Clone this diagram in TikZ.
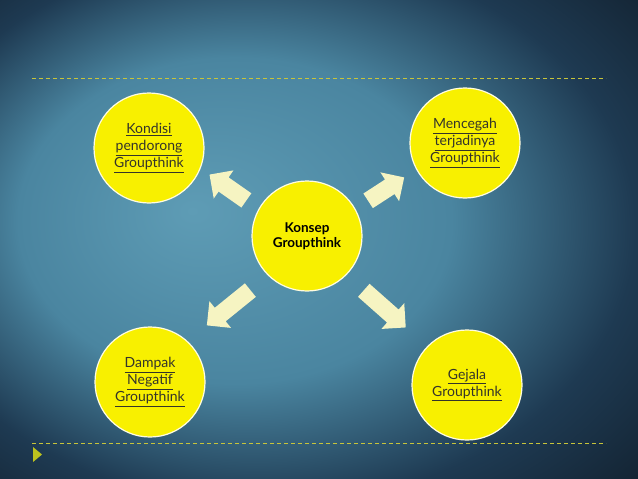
\documentclass[tikz,border=0pt]{standalone}
\usepackage{fontspec}
\setmainfont{Lato}
\usetikzlibrary{shapes.arrows}
\definecolor{bgA}{HTML}{5E9CB5}
\definecolor{bgB}{HTML}{4A85A0}
\definecolor{bgC}{HTML}{1E3A52}
\definecolor{bgD}{HTML}{101C28}
\definecolor{bgE}{HTML}{0B141C}
\definecolor{dashcol}{HTML}{C8C43A}
\definecolor{tricol}{HTML}{BCC21E}
\definecolor{circfill}{HTML}{F8F000}
\definecolor{circedge}{HTML}{FFFCE0}
\definecolor{txtcol}{HTML}{34342A}
\definecolor{arrfill}{HTML}{F6F4C2}
\pgfdeclareradialshading{bgshade}{\pgfpoint{-10bp}{3bp}}{color(0bp)=(bgA); color(17bp)=(bgB); color(29bp)=(bgC); color(41bp)=(bgD); color(50bp)=(bgE)}
\tikzset{
  bubble/.style={circle, fill=circfill, draw=circedge, line width=1.2pt, minimum size=110pt, inner sep=0pt, align=center, text=txtcol, font=\fontsize{14}{17}\selectfont},
  blockarrow/.style={single arrow, fill=arrfill, draw=none, inner xsep=0pt, inner ysep=8.5pt, single arrow head extend=8.5pt, single arrow head indent=0pt},
  dashline/.style={draw=dashcol, line width=0.9pt, dash pattern=on 4pt off 3pt},
  centertext/.style={font=\bfseries\fontsize{13.5}{15.5}\selectfont, align=center, text=black}
}
\newcommand{\ul}[1]{\underline{#1}}
\begin{document}
\begin{tikzpicture}[x=1pt,y=-1pt]
\useasboundingbox (0,0) rectangle (638,479);
\shade[shading=bgshade] (0,0) rectangle (638,479);
% dashed rules
\coordinate (t1) at (32,78);
\coordinate (t2) at (606,78);
\coordinate (b1) at (32,443);
\coordinate (b2) at (606,443);
\draw[dashline] (t1) -- (t2);
\draw[dashline] (b1) -- (b2);
\fill[tricol] (33,447) -- (33,462) -- (42,454.5) -- cycle;
% circles
\node[bubble] (kondisi) at (149,148) {\ul{Kondisi}\\\ul{pendorong}\\\ul{Groupthink}};
\node[bubble] (mencegah) at (465,143) {\ul{Mencegah}\\\ul{terjadinya}\\\ul{Groupthink}};
\node[bubble] (dampak) at (150,382) {\ul{Dampak}\\\ul{Negatif}\\\ul{Groupthink}};
\node[bubble] (gejala) at (467,385) {\ul{Gejala}\\\ul{Groupthink}};
\node[bubble, centertext] (konsep) at (307,236) {Konsep\\Groupthink};
% block arrows
\node[blockarrow, minimum height=45pt, rotate=145] (aul) at (231.5,190) {};
\node[blockarrow, minimum height=43pt, rotate=33] (aur) at (382.5,191.5) {};
\node[blockarrow, minimum height=56pt, rotate=219] (all) at (232,305) {};
\node[blockarrow, minimum height=56pt, rotate=-41.5] (alr) at (381.5,306) {};
\end{tikzpicture}
\end{document}
